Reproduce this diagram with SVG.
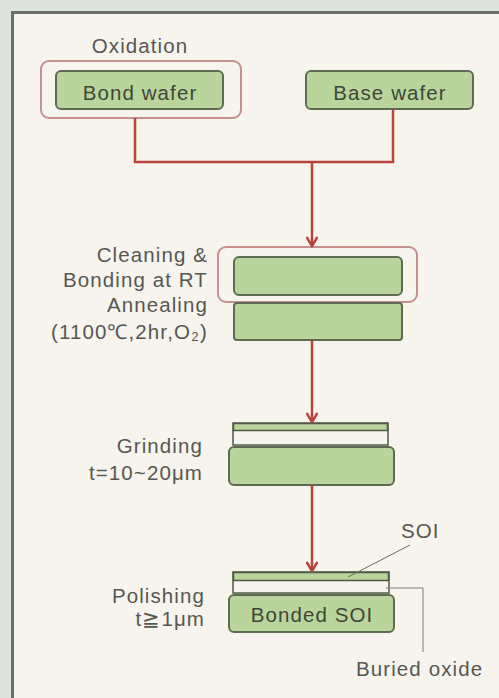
<svg xmlns="http://www.w3.org/2000/svg" width="499" height="698" viewBox="0 0 499 698">
<style>
.t{font-family:"Liberation Sans",Arial,sans-serif;font-size:20.5px;letter-spacing:1.1px;fill:#575752}
.r{text-anchor:end}
.m{text-anchor:middle}
.d{fill:#3e4736}
.g{fill:#b9d59c;stroke:#5d6b50;stroke-width:2}
.ox{fill:none;stroke:#c4918c;stroke-width:2}
.c{fill:none;stroke:#b8443a;stroke-width:2.5}
.ld{fill:none;stroke:#6a6a64;stroke-width:1}
.lb{fill:none;stroke:#8a7a78;stroke-width:1}
.w{fill:#f7f5ef;stroke:#4f5a45;stroke-width:1.5}
</style>
<defs>
<marker id="ah" markerWidth="14" markerHeight="12" refX="12" refY="6" orient="auto" markerUnits="userSpaceOnUse">
<path d="M3,0.5 L12,6 L3,11.5" fill="none" stroke="#b8443a" stroke-width="2.5"/>
</marker>
</defs>
<rect x="0" y="0" width="499" height="698" fill="#dde2dc"/>
<rect x="12" y="12" width="490" height="690" fill="#f6f4ed"/>
<path d="M12.5,700 V12.5 H499" fill="none" stroke="#6b6f69" stroke-width="3"/>

<g id="oxidation">
<text class="t m" x="140" y="53">Oxidation</text>
<rect class="ox" x="41" y="61" width="200" height="57" rx="8"/>
</g>
<g id="bond-wafer">
<rect class="g" x="56" y="71" width="167" height="38" rx="5"/>
<text class="t m d" x="140" y="100">Bond wafer</text>
</g>
<g id="base-wafer">
<rect class="g" x="306" y="71" width="167" height="38" rx="5"/>
<text class="t m d" x="390" y="100">Base wafer</text>
</g>

<g id="bonding">
<text class="t r" x="208" y="262">Cleaning &amp;</text>
<text class="t r" x="208" y="287">Bonding at RT</text>
<rect class="ox" x="218" y="247" width="199" height="55" rx="8"/>
<rect class="g" x="234" y="257" width="168" height="38" rx="5"/>
</g>
<g id="annealing">
<text class="t r" x="208" y="312">Annealing</text>
<text class="t r" x="208" y="339">(1100℃,2hr,O₂)</text>
<rect class="g" x="234" y="303" width="168" height="37" rx="3"/>
</g>

<g id="grinding">
<text class="t r" x="203" y="453">Grinding</text>
<text class="t r" x="203" y="480">t=10~20μm</text>
<rect class="w" x="233" y="423" width="155" height="22"/>
<rect x="233.5" y="423.5" width="154" height="7" fill="#b9d59c" stroke="#4f5a45" stroke-width="1.5"/>
<rect class="g" x="229" y="447" width="165" height="38" rx="5"/>
</g>

<g id="polishing">
<text class="t r" x="205" y="603">Polishing</text>
<text class="t r" x="205" y="626">t≧1μm</text>
<rect class="w" x="233" y="572" width="156" height="21"/>
<rect x="233.5" y="572.5" width="155" height="8" fill="#b9d59c" stroke="#4f5a45" stroke-width="1.5"/>
<rect class="g" x="229" y="595" width="165" height="37" rx="5"/>
<text class="t m d" x="312" y="622">Bonded SOI</text>
</g>

<g id="labels">
<text class="t" x="401" y="538">SOI</text>
<text class="t" x="356" y="676">Buried oxide</text>
</g>

<g id="connectors">
<path class="c" d="M135,118 V162 H393 V109"/>
<path class="c" d="M312,162 V246" marker-end="url(#ah)"/>
<path class="c" d="M312,340 V422" marker-end="url(#ah)"/>
<path class="c" d="M312,485 V571" marker-end="url(#ah)"/>
<path class="ld" d="M410,545 L348,577"/>
<path class="lb" d="M386,588 H423 V652"/>
</g>
</svg>
